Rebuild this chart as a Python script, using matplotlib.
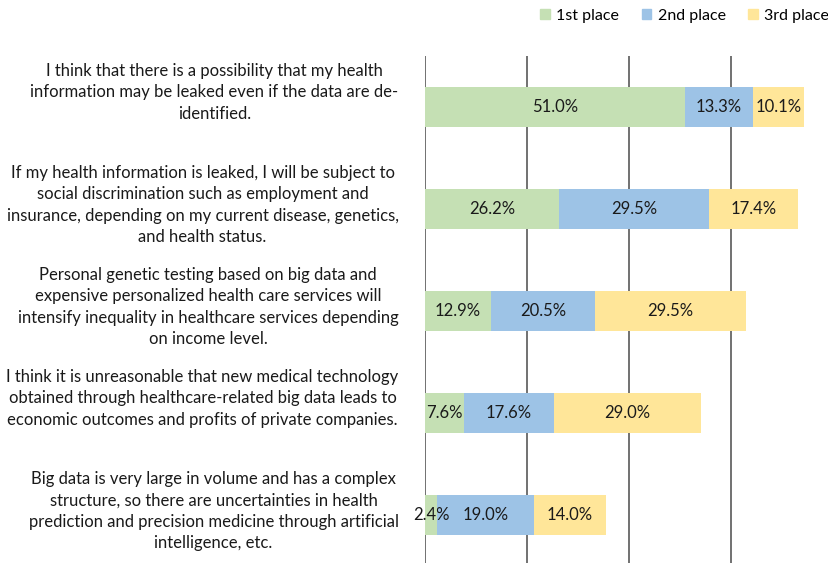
import matplotlib
matplotlib.use("Agg")
import matplotlib.pyplot as plt
from matplotlib.transforms import ScaledTranslation
from matplotlib.patches import Patch

plt.rcParams['font.family'] = ['Lato', 'DejaVu Sans']

statements = [
    "I think that there is a possibility that my health\ninformation may be leaked even if the data are de-\nidentified.",
    "If my health information is leaked, I will be subject to\nsocial discrimination such as employment and\ninsurance, depending on my current disease, genetics,\nand health status.",
    "Personal genetic testing based on big data and\nexpensive personalized health care services will\nintensify inequality in healthcare services depending\non income level.",
    "I think it is unreasonable that new medical technology\nobtained through healthcare-related big data leads to\neconomic outcomes and profits of private companies.",
    "Big data is very large in volume and has a complex\nstructure, so there are uncertainties in health\nprediction and precision medicine through artificial\nintelligence, etc.",
]
first = [51.0, 26.2, 12.9, 7.6, 2.4]
second = [13.3, 29.5, 20.5, 17.6, 19.0]
third = [10.1, 17.4, 29.5, 29.0, 14.0]

series = [("1st place", first, "#C5E0B4"),
          ("2nd place", second, "#9DC3E6"),
          ("3rd place", third, "#FFE699")]

fig = plt.figure(figsize=(8.29, 5.63), dpi=100)
ax = fig.add_axes([425 / 829, -3 / 563, 408 / 829, 510 / 563])

ypos = list(range(len(statements)))
left = [0.0] * len(statements)
for name, vals, col in series:
    bars = ax.barh(ypos, vals, left=left, height=0.4, color=col, label=name, zorder=2)
    for b, v in zip(bars, vals):
        ax.text(b.get_x() + b.get_width() / 2, b.get_y() + b.get_height() / 2,
                f"{v:.1f}%", ha="center", va="center", fontsize=12, color="#1a1a1a", zorder=3)
    left = [l + v for l, v in zip(left, vals)]

ax.set_xlim(0, 80)
ax.set_ylim(4.5, -0.5)
ax.set_xticks([0, 20, 40, 60, 80])
ax.xaxis.grid(True, color="#595959", linewidth=1.2, zorder=0)
ax.tick_params(axis="x", length=0, labelbottom=False)
for s in ax.spines.values():
    s.set_visible(False)

ax.set_yticks(ypos)
ax.set_yticklabels(statements, fontsize=12, multialignment="center", va="top",
                   color="#1a1a1a", linespacing=1.42)
ax.tick_params(axis="y", length=0, pad=19)
for lab in ax.get_yticklabels():
    lab.set_transform(lab.get_transform() + ScaledTranslation(0, 0.44, fig.dpi_scale_trans))

handles = [Patch(color=c, label=n) for n, _, c in series]
fig.legend(handles=handles, loc="center left", bbox_to_anchor=(534 / 829, 1 - 16 / 563),
           ncol=3, frameon=False, fontsize=11.5, handlelength=0.6, handleheight=0.6,
           handletextpad=0.4, columnspacing=1.4, borderaxespad=0)

fig.savefig("out.png", dpi=100)
